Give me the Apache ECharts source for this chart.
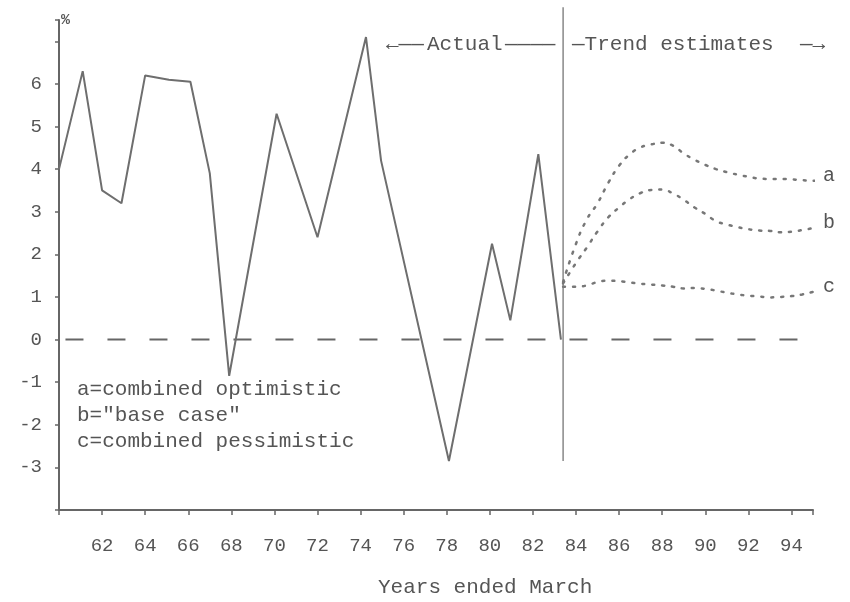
<!DOCTYPE html>
<html>
<head>
<meta charset="utf-8">
<title>Actual and trend estimates</title>
<script src="https://cdn.jsdelivr.net/npm/echarts@6/dist/echarts.min.js"></script>
<style>
  html, body {
    margin: 0;
    padding: 0;
    background: #fff;
  }
  #chart {
    width: 850px;
    height: 602px;
  }
</style>
</head>
<body>
<div id="chart"></div>
<script>
const actualYears = [60.0, 61.1, 62.0, 62.9, 64.0, 65.1, 66.1, 67.0, 67.9, 70.1, 72.0, 74.25, 74.95, 78.1, 80.1, 80.95, 82.25, 83.3];
const actualValues = [4.0, 6.3, 3.5, 3.2, 6.2, 6.1, 6.05, 3.9, -0.85, 5.3, 2.4, 7.1, 4.2, -2.85, 2.25, 0.45, 4.35, 0.0];

const trendYears = [83.4, 84, 84.5, 85, 85.5, 86, 86.5, 87, 87.5, 88, 88.5, 89, 89.5, 90, 90.5, 91, 91.5, 92, 92.5, 93, 93.5, 94, 94.5, 95, 95.4];
const optimistic = [1.35, 2.25, 2.82, 3.2, 3.68, 4.08, 4.35, 4.51, 4.58, 4.62, 4.55, 4.37, 4.22, 4.1, 4.0, 3.93, 3.87, 3.82, 3.78, 3.77, 3.77, 3.76, 3.74, 3.73, 3.73];
const baseCase = [1.32, 1.8, 2.16, 2.54, 2.87, 3.1, 3.3, 3.44, 3.51, 3.52, 3.43, 3.28, 3.1, 2.95, 2.78, 2.7, 2.64, 2.59, 2.56, 2.55, 2.52, 2.53, 2.57, 2.62, 2.68];
const pessimistic = [1.24, 1.24, 1.27, 1.35, 1.38, 1.37, 1.34, 1.31, 1.29, 1.27, 1.24, 1.2, 1.21, 1.19, 1.15, 1.1, 1.06, 1.03, 1.01, 0.99, 1.0, 1.02, 1.06, 1.12, 1.17];

const zeroLineYears = [60.3, 95.4];
const dividerYear = 83.4;
const dividerRange = [-2.85, 7.8];

const xTickLabels = [62, 64, 66, 68, 70, 72, 74, 76, 78, 80, 82, 84, 86, 88, 90, 92, 94];
const yTickLabels = [-3, -2, -1, 0, 1, 2, 3, 4, 5, 6];

const legendLines = ['a=combined optimistic', 'b="base case"', 'c=combined pessimistic'];

const mono = '"Liberation Mono", "DejaVu Sans Mono", monospace';
const ink = '#555';
const lineGray = '#6e6e6e';

const pairs = (xs, ys) => xs.map((x, i) => [x, ys[i]]);

const trendSeries = (name, values) => ({
  name: name,
  type: 'line',
  data: pairs(trendYears, values),
  smooth: true,
  symbol: 'none',
  clip: false,
  lineStyle: { color: '#777', width: 2.5, type: [2, 8], cap: 'round' },
  endLabel: {
    show: true,
    formatter: name,
    color: ink,
    fontFamily: mono,
    fontSize: 20,
    distance: 8,
    offset: [0, -5]
  }
});

const chart = echarts.init(document.getElementById('chart'));

chart.setOption({
  animation: false,
  grid: { left: 59, right: 37, top: 20, bottom: 92 },
  xAxis: {
    type: 'value',
    min: 60,
    max: 95,
    interval: 2,
    splitLine: { show: false },
    axisLine: { onZero: false, lineStyle: { color: '#666', width: 2 } },
    axisTick: { length: 5, lineStyle: { color: '#666', width: 1.5 } },
    axisLabel: {
      margin: 26,
      color: ink,
      fontFamily: mono,
      fontSize: 19,
      formatter: (v) => (xTickLabels.includes(v) ? String(v) : '')
    }
  },
  yAxis: {
    type: 'value',
    min: -4,
    max: 7.5,
    interval: 1,
    splitLine: { show: false },
    axisLine: { show: true, onZero: false, lineStyle: { color: '#666', width: 2 } },
    axisTick: { show: true, length: 4, lineStyle: { color: '#666', width: 1.5 } },
    axisLabel: {
      margin: 17,
      color: ink,
      fontFamily: mono,
      fontSize: 19,
      formatter: (v) => (yTickLabels.includes(v) ? String(v) : '')
    }
  },
  series: [
    {
      name: 'zero',
      type: 'line',
      data: [[zeroLineYears[0], 0], [zeroLineYears[1], 0]],
      symbol: 'none',
      clip: false,
      lineStyle: { color: '#666', width: 2, type: [18, 24] }
    },
    {
      name: 'divider',
      type: 'line',
      data: [[dividerYear, dividerRange[0]], [dividerYear, dividerRange[1]]],
      symbol: 'none',
      clip: false,
      lineStyle: { color: '#888', width: 1.5 }
    },
    {
      name: 'actual',
      type: 'line',
      data: pairs(actualYears, actualValues),
      symbol: 'none',
      lineStyle: { color: lineGray, width: 2 }
    },
    trendSeries('a', optimistic),
    trendSeries('b', baseCase),
    trendSeries('c', pessimistic)
  ],
  graphic: [
    {
      type: 'text',
      left: 61,
      top: 13,
      style: { text: '%', fill: ink, font: 'bold 15px ' + mono }
    },
    {
      type: 'text',
      left: 386,
      top: 34,
      style: { text: '←——', fill: ink, font: '21px ' + mono }
    },
    {
      type: 'text',
      left: 427,
      top: 34,
      style: { text: 'Actual', fill: ink, font: '21px ' + mono }
    },
    {
      type: 'text',
      left: 505,
      top: 34,
      style: { text: '————', fill: ink, font: '21px ' + mono }
    },
    {
      type: 'text',
      left: 572,
      top: 34,
      style: { text: '—Trend estimates', fill: ink, font: '21px ' + mono }
    },
    {
      type: 'text',
      left: 800,
      top: 34,
      style: { text: '—→', fill: ink, font: '21px ' + mono }
    },
    {
      type: 'text',
      left: 77,
      top: 376,
      style: { text: legendLines.join('\n'), fill: ink, font: '21px ' + mono, lineHeight: 26 }
    },
    {
      type: 'text',
      left: 378,
      top: 577,
      style: { text: 'Years ended March', fill: ink, font: '21px ' + mono }
    }
  ]
});
</script>
</body>
</html>
